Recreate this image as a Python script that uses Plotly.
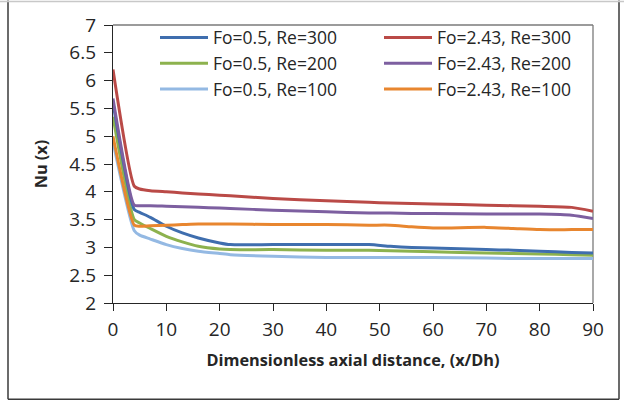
import plotly.graph_objects as go

# Axial positions (x/Dh) at which Nu(x) is tabulated
x_pos = [0, 4, 5, 7, 10, 13, 16, 20, 22, 30, 40, 48, 52, 56, 60, 70, 75, 80, 86, 90]

# Local Nusselt number, Fo = 0.5
nu_fo05_re300 = [5.60, 3.68, 3.63, 3.54, 3.38, 3.26, 3.17, 3.08, 3.05, 3.05, 3.05, 3.05,
                 3.02, 3.00, 2.99, 2.96, 2.95, 2.93, 2.91, 2.90]
nu_fo05_re200 = [5.35, 3.50, 3.44, 3.34, 3.20, 3.10, 3.02, 2.97, 2.96, 2.96, 2.95, 2.95,
                 2.94, 2.93, 2.92, 2.90, 2.89, 2.88, 2.87, 2.86]
nu_fo05_re100 = [4.90, 3.30, 3.22, 3.15, 3.05, 2.98, 2.93, 2.89, 2.87, 2.84, 2.82, 2.82,
                 2.82, 2.82, 2.82, 2.81, 2.80, 2.80, 2.80, 2.80]

# Local Nusselt number, Fo = 2.43
nu_fo243_re300 = [6.20, 4.10, 4.05, 4.02, 4.00, 3.98, 3.96, 3.94, 3.93, 3.88, 3.84, 3.81,
                  3.80, 3.79, 3.78, 3.76, 3.75, 3.74, 3.72, 3.65]
nu_fo243_re200 = [5.68, 3.76, 3.75, 3.75, 3.74, 3.73, 3.72, 3.71, 3.70, 3.67, 3.64, 3.62,
                  3.62, 3.61, 3.61, 3.60, 3.60, 3.60, 3.58, 3.52]
nu_fo243_re100 = [5.00, 3.40, 3.38, 3.39, 3.40, 3.41, 3.42, 3.42, 3.42, 3.41, 3.41, 3.40,
                  3.40, 3.37, 3.35, 3.36, 3.34, 3.32, 3.32, 3.32]

series = [
    ("Fo=0.5, Re=300", nu_fo05_re300, "#3F6EAE", "legend", 1),
    ("Fo=0.5, Re=200", nu_fo05_re200, "#8DB24E", "legend", 2),
    ("Fo=0.5, Re=100", nu_fo05_re100, "#94B9E3", "legend", 3),
    ("Fo=2.43, Re=300", nu_fo243_re300, "#BA4A47", "legend2", 1),
    ("Fo=2.43, Re=200", nu_fo243_re200, "#7D5FA0", "legend2", 2),
    ("Fo=2.43, Re=100", nu_fo243_re100, "#E8862F", "legend2", 3),
]

FONT = "Open Sans"
TEXT = "#262626"

fig = go.Figure()
# draw the lower group first so the Fo=2.43 curves sit on top
for name, y, color, leg, rank in series[2::-1] + series[:2:-1]:
    fig.add_trace(go.Scatter(
        x=x_pos, y=y, name=name, mode="lines",
        line=dict(color=color, width=3, shape="spline", smoothing=0.6),
        legend=leg, legendrank=rank, showlegend=True,
    ))

W, H = 624, 402
L, R, T, B = 113, 31, 24.5, 98.5
pw, ph = W - L - R, H - T - B


def px_x(px):
    return (px - L) / pw


def px_y(py):
    return (H - B - py) / ph


legend_common = dict(
    font=dict(family=FONT, size=17.5, color=TEXT),
    bgcolor="rgba(0,0,0,0)", borderwidth=0,
    itemwidth=48, tracegroupgap=0,
    xanchor="left", yanchor="top", orientation="v",
)

fig.update_layout(
    width=W, height=H,
    margin=dict(l=L, r=R, t=T, b=B, pad=0),
    paper_bgcolor="white", plot_bgcolor="white",
    font=dict(family=FONT, color=TEXT),
    legend=dict(x=px_x(155), y=px_y(19), **legend_common),
    legend2=dict(x=px_x(379), y=px_y(19), **legend_common),
    xaxis=dict(
        range=[0, 90], tickmode="array", tickvals=list(range(0, 91, 10)),
        showgrid=False, zeroline=False, showline=True, linecolor="#262626", linewidth=1.3,
        ticks="outside", ticklen=7, tickwidth=1.3, tickcolor="#262626",
        tickfont=dict(family=FONT, size=19, color=TEXT), ticklabelstandoff=2,
        title=dict(text="<b>Dimensionless axial distance, (x/Dh)</b>",
                   font=dict(family=FONT, size=16.3, color=TEXT), standoff=13),
    ),
    yaxis=dict(
        range=[2, 7], tickmode="array", tickvals=[2, 2.5, 3, 3.5, 4, 4.5, 5, 5.5, 6, 6.5, 7],
        ticktext=["2", "2.5", "3", "3.5", "4", "4.5", "5", "5.5", "6", "6.5", "7"],
        showgrid=False, zeroline=False, showline=True, linecolor="#262626", linewidth=1.3,
        ticks="outside", ticklen=8, tickwidth=1.3, tickcolor="#262626",
        tickfont=dict(family=FONT, size=19, color=TEXT), ticklabelstandoff=4,
        title=dict(text="<b>Nu (x)</b>", font=dict(family=FONT, size=16.3, color=TEXT),
                   standoff=17),
    ),
    showlegend=True,
)

# plot-area border (top and right edges)
fig.add_shape(type="line", xref="paper", yref="paper", x0=0, x1=1, y0=1, y1=1,
              line=dict(color="#7a7a7a", width=1.3), layer="below")
fig.add_shape(type="line", xref="paper", yref="paper", x0=1, x1=1, y0=0, y1=1,
              line=dict(color="#7a7a7a", width=1.3), layer="below")

# chart frame
fig.add_shape(type="line", xref="paper", yref="paper", x0=px_x(8), x1=px_x(8),
              y0=px_y(0), y1=px_y(400), line=dict(color="#3a3a3a", width=1.5))
fig.add_shape(type="line", xref="paper", yref="paper", x0=px_x(8), x1=px_x(619),
              y0=px_y(400), y1=px_y(400), line=dict(color="#3a3a3a", width=1.5))
fig.add_shape(type="line", xref="paper", yref="paper", x0=px_x(619), x1=px_x(619),
              y0=px_y(0), y1=px_y(400), line=dict(color="#3a3a3a", width=1.5))
fig.add_shape(type="line", xref="paper", yref="paper", x0=px_x(0), x1=px_x(624),
              y0=px_y(1), y1=px_y(1), line=dict(color="#c8c8c8", width=1.5))

fig.write_html("out.html")
